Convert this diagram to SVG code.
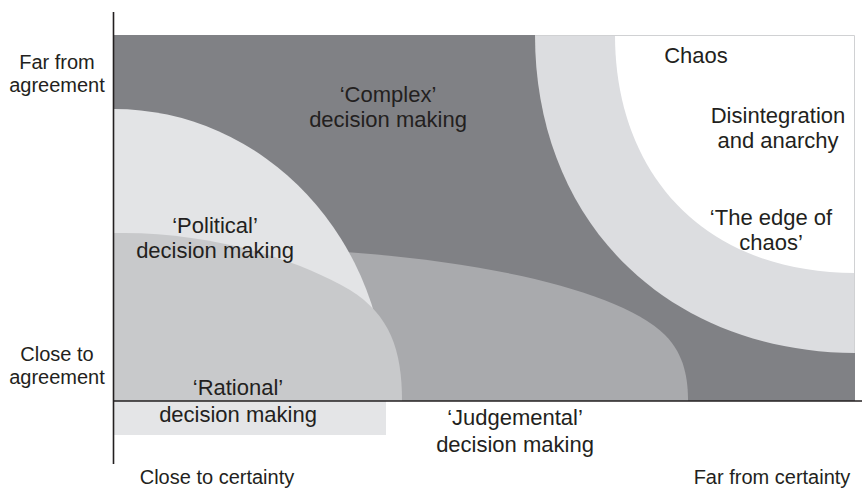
<svg xmlns="http://www.w3.org/2000/svg" width="862" height="490" viewBox="0 0 862 490">
<style>
text{font-family:"Liberation Sans",Arial,sans-serif;fill:#231f20;text-anchor:middle}
.ax{font-size:20px}
.rg{font-size:22px}
.axis{stroke:#231f20;stroke-width:1.6;fill:none}
</style>
<defs>
<clipPath id="plot"><rect x="114" y="35" width="741" height="366"/></clipPath>
</defs>
<rect width="862" height="490" fill="#ffffff"/>
<g id="complex">
<rect x="114" y="35" width="741" height="366" fill="#808185"/>
</g>
<g id="chaos" clip-path="url(#plot)">
<path d="M535,35 C535,220 665,352 856,353 L856,35 Z" fill="#dcdde0"/>
<path d="M615,35 C615,170 700,273 856,273 L856,35 Z" fill="#ffffff"/>
<path d="M535,35.5 H854.5 V353" fill="none" stroke="#d0d1d3" stroke-width="1"/>
</g>
<g id="judgemental">
<path d="M330,251 C480,260 620,290 665,335 C685,355 688,380 688,401 H330 Z" fill="#a9aaad"/>
</g>
<g id="political">
<path d="M114,109 A273,292 0 0 1 387,401 H114 Z" fill="#e3e4e6"/>
</g>
<g id="rational">
<path d="M114,233 C200,231 290,255 350,290 C390,315 402,350 402,401 H114 Z" fill="#c8c9cb"/>
<rect x="114" y="401" width="272" height="34" fill="#e4e5e7"/>
</g>
<g id="axes">
<line class="axis" x1="113.5" y1="12" x2="113.5" y2="464"/>
<line class="axis" x1="113" y1="401" x2="862" y2="401"/>
</g>
<g id="labels">
<g id="complex-label">
<text class="rg" x="388" y="102">&#8216;Complex&#8217;</text>
<text class="rg" x="388" y="127">decision making</text>
</g>
<g id="chaos-label">
<text class="rg" x="696" y="63">Chaos</text>
<text class="rg" x="778" y="123">Disintegration</text>
<text class="rg" x="778" y="148">and anarchy</text>
<text class="rg" x="771" y="225">&#8216;The edge of</text>
<text class="rg" x="771" y="250">chaos&#8217;</text>
</g>
<g id="political-label">
<text class="rg" x="215" y="233">&#8216;Political&#8217;</text>
<text class="rg" x="215" y="258">decision making</text>
</g>
<g id="rational-label">
<text class="rg" x="238" y="395">&#8216;Rational&#8217;</text>
<text class="rg" x="238" y="422">decision making</text>
</g>
<g id="judgemental-label">
<text class="rg" x="515" y="425">&#8216;Judgemental&#8217;</text>
<text class="rg" x="515" y="452">decision making</text>
</g>
<g id="axis-labels">
<text class="ax" x="57" y="69">Far from</text>
<text class="ax" x="57" y="92">agreement</text>
<text class="ax" x="57" y="361">Close to</text>
<text class="ax" x="57" y="384">agreement</text>
<text class="ax" x="217" y="484">Close to certainty</text>
<text class="ax" x="772" y="484">Far from certainty</text>
</g>
</g>
</svg>
